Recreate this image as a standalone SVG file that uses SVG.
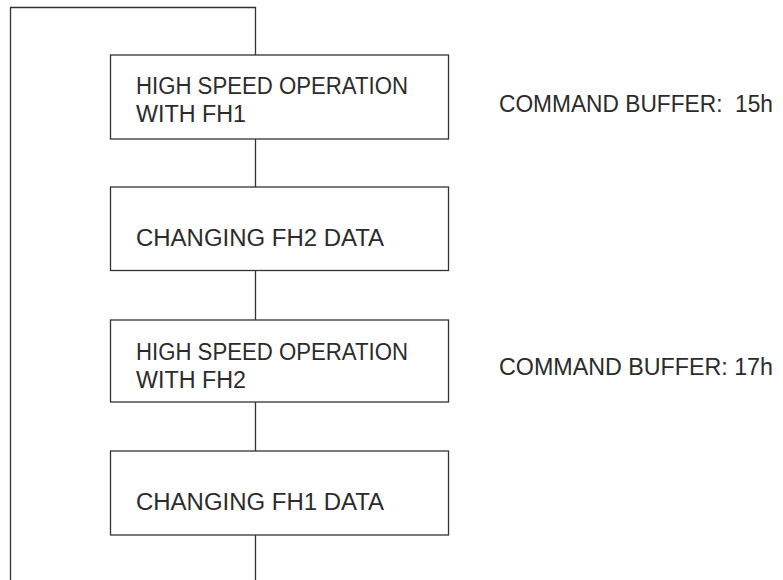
<svg xmlns="http://www.w3.org/2000/svg" width="783" height="580" viewBox="0 0 783 580">
<style>
.ln{fill:none;stroke:#333;stroke-width:1.3}
.bx{fill:#fff;stroke:#333;stroke-width:1.3}
.t{font-family:"Liberation Sans",Arial,sans-serif;font-size:23px;fill:#2b2b2b;white-space:pre}
</style>
<rect width="783" height="580" fill="#fff"/>
<g id="connectors">
<polyline class="ln" points="10.5,580 10.5,7.5 255.5,7.5 255.5,580"/>
</g>
<g id="node1">
<rect class="bx" x="110.5" y="55" width="338" height="84"/>
<text class="t" x="136" y="94" textLength="272" lengthAdjust="spacingAndGlyphs">HIGH SPEED OPERATION</text>
<text class="t" x="136" y="122" textLength="110" lengthAdjust="spacingAndGlyphs">WITH FH1</text>
</g>
<g id="node2">
<rect class="bx" x="110.5" y="187" width="338" height="83.5"/>
<text class="t" x="136" y="246" textLength="248" lengthAdjust="spacingAndGlyphs">CHANGING FH2 DATA</text>
</g>
<g id="node3">
<rect class="bx" x="110.5" y="320" width="338" height="82"/>
<text class="t" x="136" y="359.5" textLength="272" lengthAdjust="spacingAndGlyphs">HIGH SPEED OPERATION</text>
<text class="t" x="136" y="387.5" textLength="110" lengthAdjust="spacingAndGlyphs">WITH FH2</text>
</g>
<g id="node4">
<rect class="bx" x="110.5" y="451" width="338" height="84"/>
<text class="t" x="136" y="510" textLength="248" lengthAdjust="spacingAndGlyphs">CHANGING FH1 DATA</text>
</g>
<g id="label1">
<text class="t" x="499" y="112" textLength="274" lengthAdjust="spacingAndGlyphs">COMMAND BUFFER:  15h</text>
</g>
<g id="label2">
<text class="t" x="499" y="375" textLength="274" lengthAdjust="spacingAndGlyphs">COMMAND BUFFER: 17h</text>
</g>
</svg>
